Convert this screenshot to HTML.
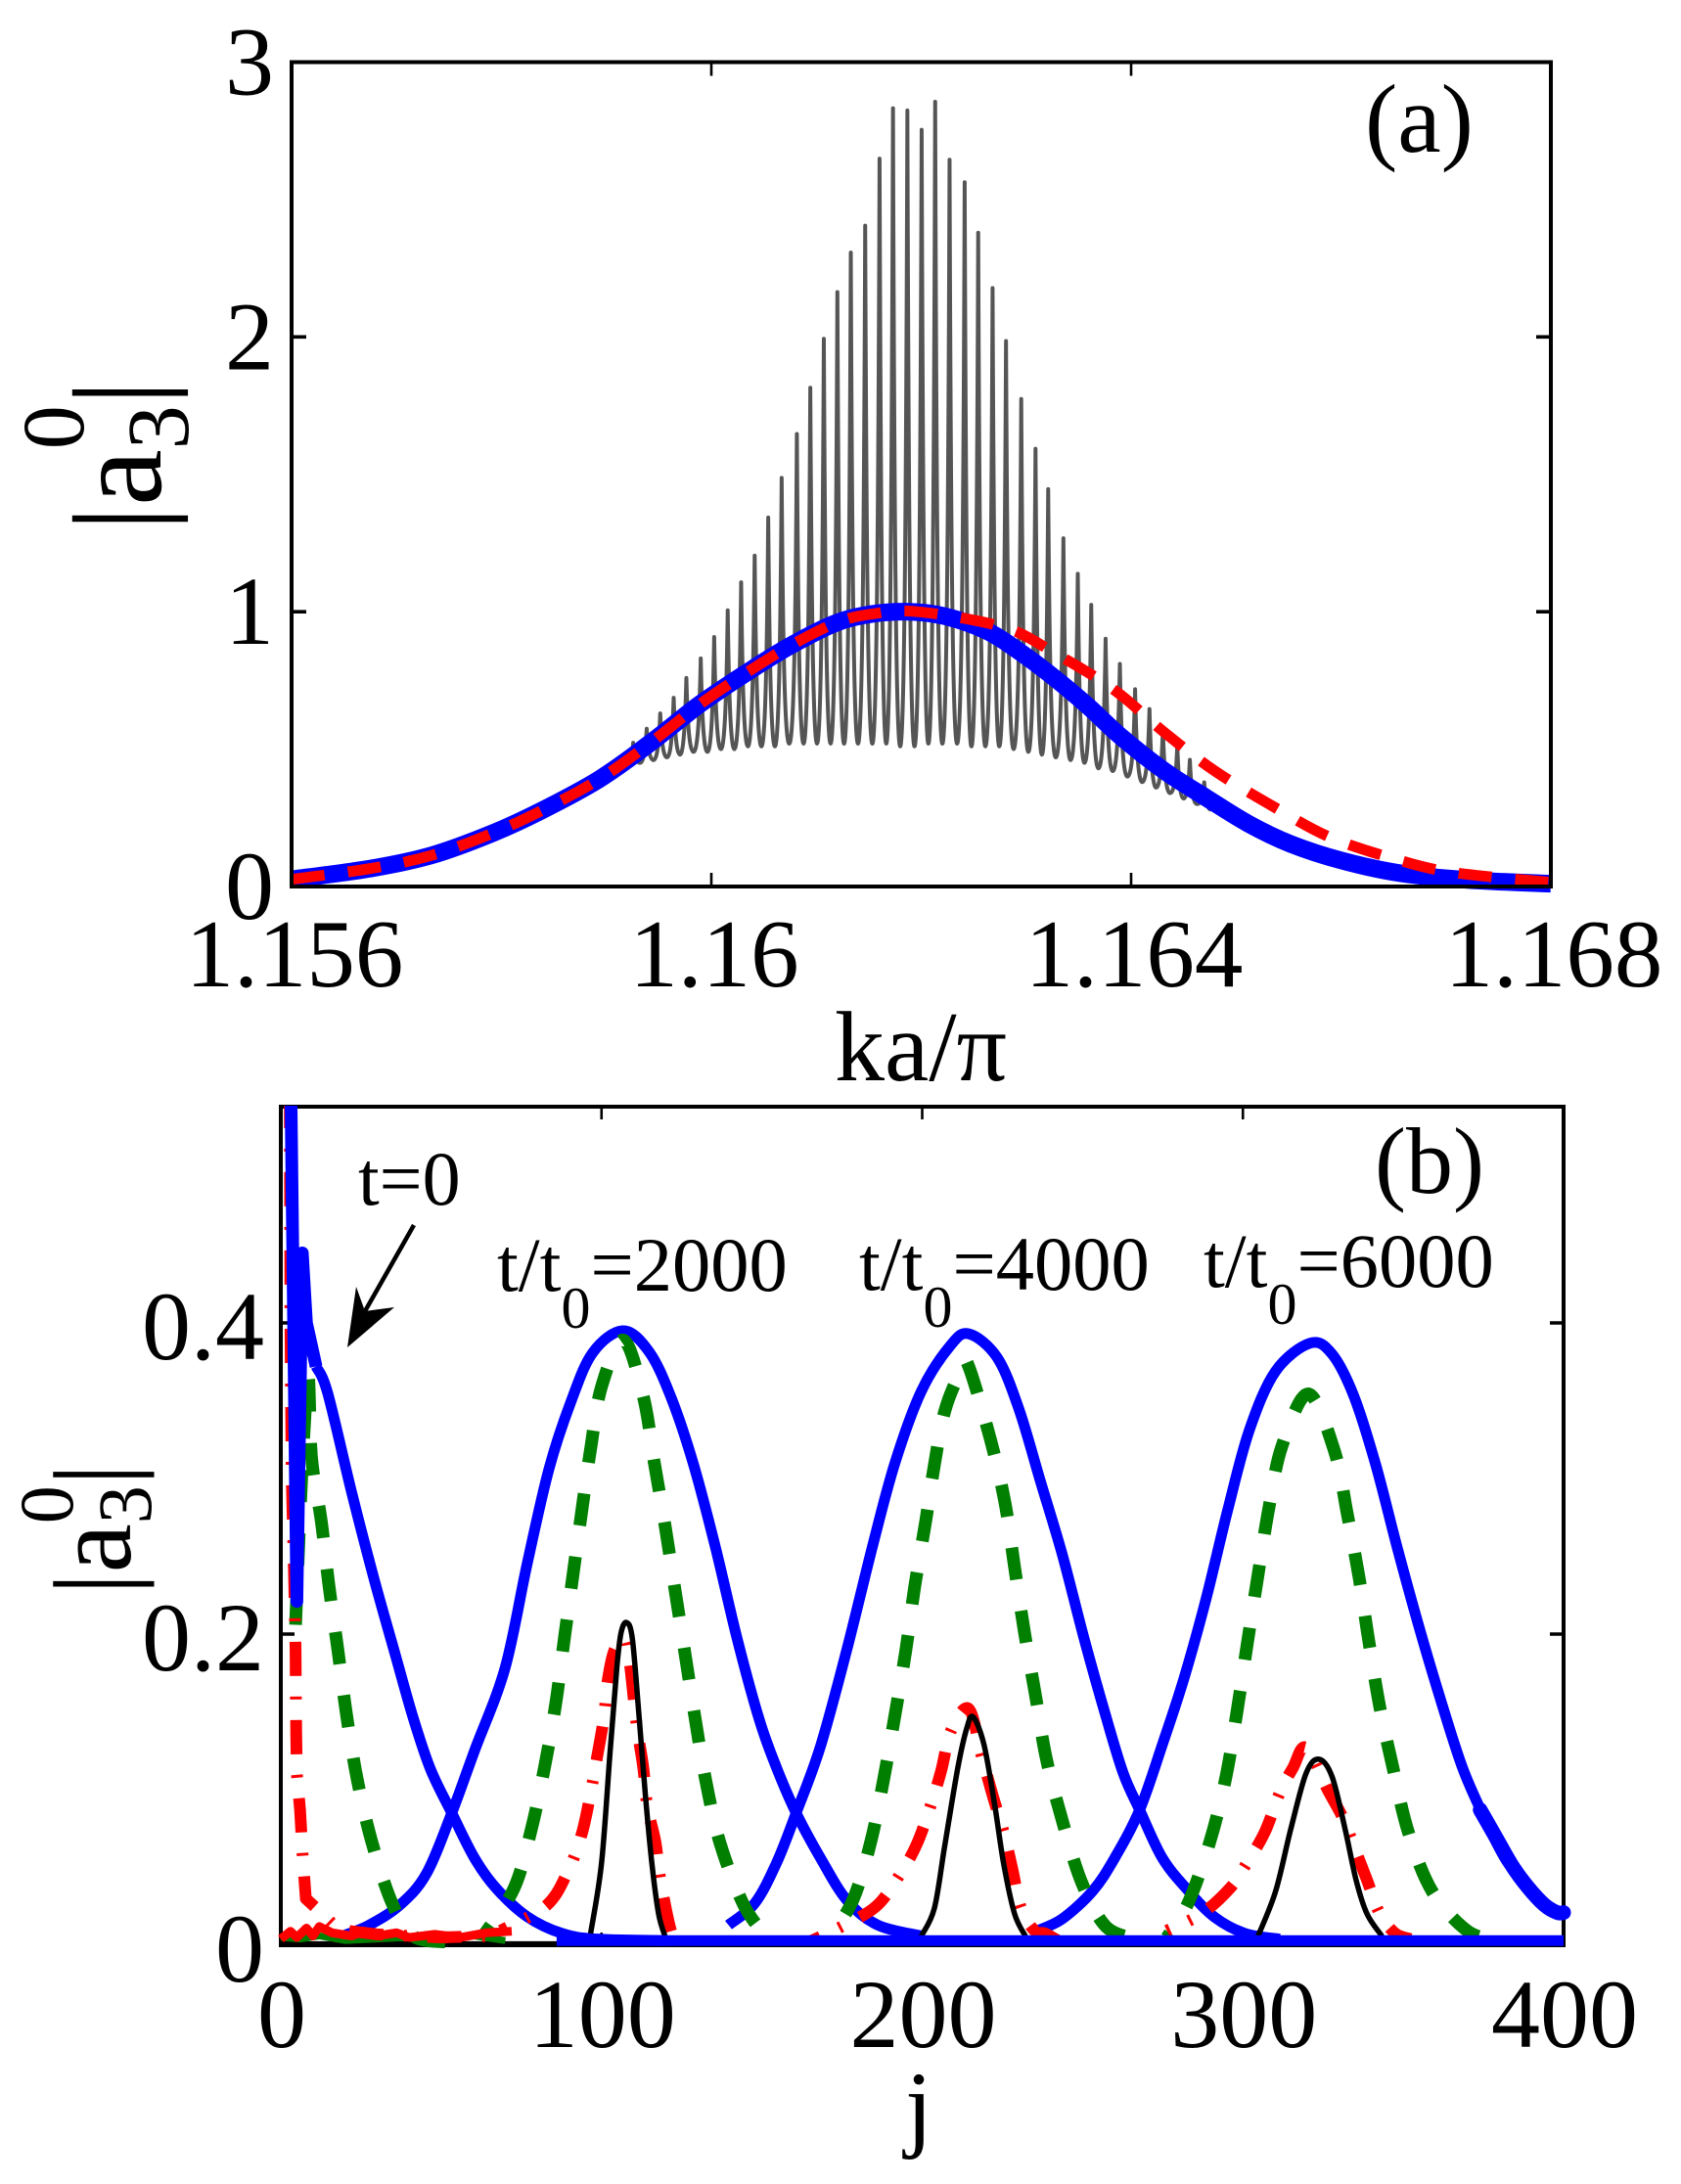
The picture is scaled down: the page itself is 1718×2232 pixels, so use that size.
<!DOCTYPE html>
<html>
<head>
<meta charset="utf-8">
<title>Pulse amplitude chart</title>
<style>
html,body{margin:0;padding:0;background:#fff;}
svg{display:block;}
text{font-family:"Liberation Serif","DejaVu Serif",serif;fill:#000;}
</style>
</head>
<body>
<svg id="fig" width="1718" height="2232" viewBox="0 0 1718 2232" xmlns="http://www.w3.org/2000/svg">
  <defs>
    <clipPath id="clipB"><rect x="284" y="1130" width="1318" height="862"/></clipPath>
  </defs>
  <rect width="1718" height="2232" fill="#fff"/>
  <g id="panelA"></g>
  <g id="panelB"></g>

  <text x="1395" y="155" font-size="100">(a)</text>
  <text x="941" y="1104" font-size="102" text-anchor="middle">ka/π</text>
  <text transform="translate(164,543) rotate(-90)" font-size="130">|a<tspan dy="28" font-size="90">3</tspan><tspan dx="-45" dy="-107" font-size="90">0</tspan><tspan dy="79">|</tspan></text>

  <text x="1405" y="1219" font-size="96">(b)</text>
  <text x="939" y="2186" font-size="100" text-anchor="middle">j</text>
  <text transform="translate(133,1630) rotate(-90)" font-size="113">|a<tspan dy="21" font-size="78">3</tspan><tspan dx="-39" dy="-80" font-size="78">0</tspan><tspan dy="59">|</tspan></text>

  <text x="366" y="1231" font-size="78">t=0</text>
  <text x="508" y="1319" font-size="78.5">t/t<tspan dy="38" font-size="60">0</tspan><tspan dy="-38">=2000</tspan></text>
  <text x="878" y="1318" font-size="78.5">t/t<tspan dy="38" font-size="60">0</tspan><tspan dy="-38">=4000</tspan></text>
  <text x="1230" y="1315" font-size="78.5">t/t<tspan dy="38" font-size="60">0</tspan><tspan dy="-38">=6000</tspan></text>

  <g>
    <line x1="423" y1="1252" x2="373" y2="1340" stroke="#000" stroke-width="4.5"/>
    <polygon points="355,1377 364,1315 373,1340 403,1336" fill="#000"/>
  </g>
</svg>
<script>
// ---------- panel (a) data ----------
const aXTicks = [1.156, 1.16, 1.164, 1.168];
const aXTickLabels = ["1.156", "1.16", "1.164", "1.168"];
const aYTicks = [0, 1, 2, 3];
const aYTickLabels = ["0", "1", "2", "3"];

const combK = [1.158894,1.159014,1.159135,1.159255,1.159384,1.159513,1.159641,1.159762,1.159899,1.160027,1.160156,1.160284,1.160413,1.160542,1.160670,1.160815,1.160943,1.161072,1.161201,1.161329,1.161466,1.161603,1.161731,1.161868,1.162004,1.162133,1.162270,1.162414,1.162543,1.162680,1.162808,1.162953,1.163089,1.163210,1.163355,1.163492,1.163620,1.163757,1.163893,1.164038,1.164175,1.164303,1.164440,1.164560,1.164697];
const combPeaks = [.379,.420,.472,.523,.574,.630,.687,.759,.830,.908,1.005,1.107,1.204,1.343,1.487,1.647,1.815,1.993,2.163,2.307,2.405,2.649,2.832,2.824,2.754,2.856,2.645,2.563,2.379,2.178,1.985,1.774,1.593,1.446,1.267,1.138,1.025,.902,.810,.718,.646,.574,.513,.461,.379];
const combTroughs = [.36,.38,.40,.43,.45,.46,.47,.48,.49,.49,.50,.50,.51,.51,.51,.52,.52,.52,.52,.52,.52,.52,.52,.51,.51,.52,.52,.52,.51,.51,.51,.50,.49,.48,.47,.46,.45,.43,.42,.40,.38,.36,.34,.32,.30,.28];

const aBlueK = [1.1560,1.15676,1.15733,1.15789,1.15837,1.15893,1.15942,1.15990,1.16038,1.16078,1.16118,1.16150,1.16186,1.16222,1.16263,1.16295,1.16327,1.16359,1.16391,1.16432,1.16472,1.16512,1.16552,1.16601,1.16657,1.16721,1.1680];
const aBlueV = [.026,.066,.113,.19,.274,.390,.523,.666,.789,.882,.958,.99,1.0,.984,.929,.851,.759,.656,.543,.42,.322,.228,.155,.094,.048,.024,.010];
const aRedK = [1.1560,1.15676,1.15733,1.15789,1.15837,1.15893,1.15942,1.15990,1.16038,1.16078,1.16118,1.16150,1.16197,1.16279,1.16327,1.16383,1.16432,1.16480,1.16536,1.16589,1.16649,1.16705,1.1680];
const aRedV = [.026,.066,.113,.19,.274,.390,.523,.666,.789,.882,.958,.99,1.0,.943,.85,.718,.56,.42,.29,.18,.103,.052,.015];

// ---------- panel (b) data ----------
const bXTicks = [0, 100, 200, 300, 400];
const bXTickLabels = ["0", "100", "200", "300", "400"];
const bYTicks = [0, 0.2, 0.4];
const bYTickLabels = ["0", "0.2", "0.4"];

const blueSpikeJ = [3,3.2,5,6.7,8,11];
const blueSpikeV = [.56,.54,.221,.445,.40,.372];
const blueT0J = [11,14.6,22.1,29,35.8,41.3,46.7,53.3,60.4,67.2,76.8,87.7,98.6,120];
const blueT0V = [.372,.355,.291,.236,.186,.146,.113,.085,.056,.0365,.0184,.0076,.004,.003];
const blueT2000J = [19.4,27.6,37.2,45.4,53.3,60.4,69.9,76.8,83.6,90.4,97.3,106.8,115,121.9,128.7,135.5,142.3,149.2,154.6,160.7,168.3,176.5,186.1,199.7];
const blueT2000V = [.006,.013,.026,.046,.085,.125,.178,.245,.306,.349,.381,.395,.381,.351,.309,.256,.197,.145,.114,.085,.056,.029,.013,.006];
const blueT4000J = [139.6,147.8,154.6,160.7,168.3,176.5,184.7,191.5,199.7,208.6,214.5,223.3,230.1,236.9,243.7,250.5,257.3,262.7,267.8,274.9,283,291.2,300.7,311.5];
const blueT4000V = [.013,.027,.053,.085,.128,.19,.258,.31,.356,.385,.393,.378,.345,.298,.251,.197,.147,.1105,.087,.056,.035,.018,.0076,.004];
const blueT6000J = [235.5,243.7,253.2,260,267.8,274.9,281.7,288.5,295.3,302,310.2,321,327.8,334.6,341.4,348.2,355,361.7,368.5,375.3,382.1,388.9,394.3,398.4];
const blueT6000V = [.009,.017,.035,.056,.087,.129,.172,.2225,.28,.331,.369,.387,.38,.353,.309,.255,.204,.1575,.114,.082,.0546,.038,.024,.02];
const blueTailJ = [374,379,384,389,394,398,400];
const blueTailV = [.087,.069,.051,.037,.026,.021,.021];
const blueFloorJ = [86,150,250,320,400];
const blueFloorV = [.003,.003,.003,.003,.003];

const greenT0J = [4.6,6.5,8.5,9.6,12.6,15,17.8,20.5,23.8,28.3,34.7,41.3,52];
const greenT0V = [.206,.30,.365,.313,.2728,.2313,.1897,.148,.107,.067,.027,.0058,.002];
const greenT2000J = [63.1,72.7,78.1,82.2,85.7,88.4,91.1,93.9,96.6,100,106.8,113,116.4,119.8,122.8,126,129.1,132.5,137,144.4,152];
const greenT2000V = [.006,.0365,.0744,.114,.155,.197,.238,.28,.319,.359,.389,.353,.311,.27,.23,.188,.147,.106,.0654,.0257,.004];
const greenT4000J = [171,178.5,184,188.1,191.5,194.9,197.7,201.1,203.1,207,212.5,214.5,221.3,225.8,228.8,231.9,235.3,238.7,243.7,249.8,257.3,266.8];
const greenT4000V = [.004,.0296,.0668,.108,.1478,.1896,.231,.2727,.30,.343,.3707,.372,.325,.2845,.243,.201,.161,.12,.08,.04,.012,.004];
const greenT6000J = [276.3,283,289.8,294.6,298,301.4,304.7,308.1,312.2,320.4,328.5,332.6,336.2,339.3,342.7,346.8,351.6,359,369.9,379.4];
const greenT6000V = [.005,.0275,.0672,.107,.148,.1943,.2377,.281,.321,.3544,.318,.2767,.2367,.195,.153,.114,.0727,.0347,.0094,.003];
const greenFloorJ = [0,6,12,20,30,40,50,60,70];
const greenFloorV = [.005,.004,.006,.003,.004,.005,.003,.006,.003];

const redT0J = [2.8,3,3.4,4,4.6,4.7,4.8,5,6,6.8,7.8,12,18,30,50,64,70];
const redT0V = [.54,.40,.30,.25,.19,.159,.136,.11,.087,.058,.03,.022,.010,.007,.005,.006,.01];
const redT2000J = [68.6,82.9,89.8,93.9,96.6,98.6,100.7,102,104.1,107.5,108.9,110.9,113,114.3,116.8,118.4,121.9,124.6];
const redT2000V = [.0094,.0257,.0488,.072,.0979,.1207,.146,.171,.19,.197,.18,.1427,.1145,.089,.0665,.0417,.0076,.003];
const redT4000J = [165.6,175.8,186,193.6,198.4,202.5,205.9,209,214.5,218.6,222,225.4,228.1,230.8,235,238.3,242.3];
const redT4000V = [.003,.013,.0257,.0473,.0654,.0889,.112,.138,.152,.1214,.0961,.0726,.049,.0239,.0094,.0076,.003];
const redT6000J = [276.3,287.1,295.9,300.7,306.8,311.5,315.6,319.7,326.5,331.2,335.3,338.7,342.7,347.5,352.2];
const redT6000V = [.0094,.0202,.0365,.051,.0726,.098,.114,.127,.0997,.0817,.06,.0419,.0202,.0076,.004];
const redFloorJ = [0,3,5,8,10,12,16,22,26,30,36,40,48,56,64,72];
const redFloorV = [.004,.009,.005,.011,.006,.012,.008,.006,.009,.006,.008,.005,.007,.005,.008,.009];

const blackT2000J = [96.6,100,102.7,104.8,106.1,107.8,109.6,111.6,113.7,115.7,117.8,119.8];
const blackT2000V = [.0076,.0527,.125,.179,.2009,.2074,.1973,.1499,.0961,.0527,.0202,.0058];
const blackT4000J = [199.7,203.8,207,211.1,213.9,215.9,219.3,222.7,225.4,228.8,232.2];
const blackT4000V = [.0058,.0238,.0636,.114,.1395,.1467,.1286,.0889,.0524,.0202,.0058];
const blackT6000J = [304.7,310.2,314.9,319.7,323.7,327.8,331.9,335.3,338.7,343.4];
const blackT6000V = [.0058,.0347,.0744,.1105,.1196,.1084,.0744,.0419,.0202,.0058];
const blackFloorJ = [0,100,200,400];
const blackFloorV = [.001,.001,.001,.001];

// ---------- axis functions ----------
const aLeft = 298, aRight = 1585, aTop = 63.5, aBottom = 906;
const bLeft = 287, bRight = 1598, bTop = 1131, bBottom = 1988;
const ax = k => aLeft + (k - 1.156) / 0.012 * (aRight - aLeft);
const ay = v => aBottom - v / 3 * (aBottom - aTop);
const bx = j => bLeft + j / 400 * (bRight - bLeft);
const by = v => bBottom - v / 0.2 * 318;

const NS = "http://www.w3.org/2000/svg";
const panelA = document.getElementById("panelA");
const panelB = document.getElementById("panelB");

function make(parent, tag, attrs) {
  const e = document.createElementNS(NS, tag);
  for (const key in attrs) e.setAttribute(key, attrs[key]);
  parent.appendChild(e);
  return e;
}
function straight(xs, ys, fx, fy) {
  return xs.map((x, i) => (i ? "L" : "M") + fx(x).toFixed(2) + " " + fy(ys[i]).toFixed(2)).join(" ");
}
function smooth(xs, ys, fx, fy) {
  const p = xs.map((x, i) => [fx(x), fy(ys[i])]);
  let d = "M" + p[0][0].toFixed(2) + " " + p[0][1].toFixed(2);
  for (let i = 0; i < p.length - 1; i++) {
    const a = p[Math.max(i - 1, 0)], b = p[i], c = p[i + 1], e = p[Math.min(i + 2, p.length - 1)];
    d += " C" + (b[0] + (c[0] - a[0]) / 6).toFixed(2) + " " + (b[1] + (c[1] - a[1]) / 6).toFixed(2) + " " +
         (c[0] - (e[0] - b[0]) / 6).toFixed(2) + " " + (c[1] - (e[1] - b[1]) / 6).toFixed(2) + " " +
         c[0].toFixed(2) + " " + c[1].toFixed(2);
  }
  return d;
}
function curve(parent, d, color, width, dash, clip) {
  const attrs = {d: d, fill: "none", stroke: color, "stroke-width": width, "stroke-linejoin": "round"};
  if (dash) attrs["stroke-dasharray"] = dash;
  if (clip) attrs["clip-path"] = "url(#clipB)";
  return make(parent, "path", attrs);
}
// Shift a dashed stroke so that a dash sits centred near a reference pixel.
function alignDash(path, refX, refY, centre) {
  const total = path.getTotalLength();
  let best = 0, bestDist = Infinity;
  for (let s = 0; s <= total; s += 1) {
    const q = path.getPointAtLength(s);
    const dist = (q.x - refX) * (q.x - refX) + (q.y - refY) * (q.y - refY);
    if (dist < bestDist) { bestDist = dist; best = s; }
  }
  path.setAttribute("stroke-dashoffset", (centre - best).toFixed(2));
}
function combPath() {
  const xp = combK.map(ax);
  const step = xp[1] - xp[0];
  const xt = i => i === 0 ? xp[0] - step / 2 : (i === xp.length ? xp[xp.length - 1] + step / 2 : (xp[i - 1] + xp[i]) / 2);
  let d = "M" + xt(0).toFixed(2) + " " + ay(combTroughs[0]).toFixed(2);
  combK.forEach((k, i) => {
    const X = xp[i], Y = ay(combPeaks[i]), t0 = ay(combTroughs[i]), t1 = ay(combTroughs[i + 1]);
    d += " C" + (X - 2.6).toFixed(2) + " " + t0.toFixed(2) + " " + (X - 1).toFixed(2) + " " + ((Y + t0) / 2).toFixed(2) + " " + X.toFixed(2) + " " + Y.toFixed(2);
    d += " C" + (X + 1).toFixed(2) + " " + ((Y + t1) / 2).toFixed(2) + " " + (X + 2.6).toFixed(2) + " " + t1.toFixed(2) + " " + xt(i + 1).toFixed(2) + " " + t1.toFixed(2);
  });
  return d;
}

// ---------- panel (a) ----------
const comb = curve(panelA, combPath(), "#555555", 4);



const aBlue = curve(panelA, smooth(aBlueK, aBlueV, ax, ay), "#0000ff", 18);



const aRed = curve(panelA, smooth(aRedK, aRedV, ax, ay), "#ff0000", 11, "34 24");



const aFrame = make(panelA, "rect", {x: aLeft, y: aTop, width: aRight - aLeft, height: aBottom - aTop, fill: "none", stroke: "#000", "stroke-width": 4});



aXTicks.forEach((t, i) => {
  const X = ax(t);
  const tick = make(panelA, "path", {d: "M" + X + " " + aBottom + "v-14M" + X + " " + aTop + "v14", stroke: "#000", "stroke-width": 2.6, fill: "none"});
  
  
  const label = make(panelA, "text", {x: X + 3, y: 1008, "font-size": 99, "text-anchor": "middle"});
  label.textContent = aXTickLabels[i];
  
  
});
aYTicks.forEach((t, i) => {
  const Y = ay(t);
  const tick = make(panelA, "path", {d: "M" + aLeft + " " + Y + "h15M" + aRight + " " + Y + "h-15", stroke: "#000", "stroke-width": 3.6, fill: "none"});
  
  
  const label = make(panelA, "text", {x: 280, y: Y + 33, "font-size": 100, "text-anchor": "end"});
  label.textContent = aYTickLabels[i];
  
  
});

// ---------- panel (b) ----------
const bFrame = make(panelB, "rect", {x: bLeft, y: bTop, width: bRight - bLeft, height: bBottom - bTop, fill: "none", stroke: "#000", "stroke-width": 4});



bXTicks.forEach((t, i) => {
  const X = bx(t);
  const tick = make(panelB, "path", {d: "M" + X + " " + bBottom + "v-13M" + X + " " + bTop + "v13", stroke: "#000", "stroke-width": 2.6, fill: "none"});
  
  
  const label = make(panelB, "text", {x: X + 1, y: 2092, "font-size": 100, "text-anchor": "middle"});
  label.textContent = bXTickLabels[i];
  
  
});
bYTicks.forEach((t, i) => {
  const Y = by(t);
  const tick = make(panelB, "path", {d: "M" + bLeft + " " + Y + "h14M" + bRight + " " + Y + "h-14", stroke: "#000", "stroke-width": 3.6, fill: "none"});
  
  
  const label = make(panelB, "text", {x: 270, y: Y + 37, "font-size": 100, "text-anchor": "end"});
  label.textContent = bYTickLabels[i];
  
  
});

const BLUE = "#0000ff", GREEN = "#007f00", RED = "#ff0000", BLACK = "#000000";
const greenDash = "33 32", redDash = "35 21 3 21";
const blueWidth = 11, greenWidth = 13, redWidth = 12, blackWidth = 5.5;

const blackFloor = curve(panelB, straight(blackFloorJ, blackFloorV, bx, by), BLACK, 5, null, true);



const b0 = curve(panelB, smooth(blueT0J, blueT0V, bx, by), BLUE, blueWidth, null, true);


const b2 = curve(panelB, smooth(blueT2000J, blueT2000V, bx, by), BLUE, blueWidth, null, true);


const b4 = curve(panelB, smooth(blueT4000J, blueT4000V, bx, by), BLUE, blueWidth, null, true);


const b6 = curve(panelB, smooth(blueT6000J, blueT6000V, bx, by), BLUE, blueWidth, null, true);


const bTail = curve(panelB, smooth(blueTailJ, blueTailV, bx, by), BLUE, 15, null, false);


bTail.setAttribute('stroke-linecap', 'round');

const gFloor = curve(panelB, straight(greenFloorJ, greenFloorV, bx, by), GREEN, 7, null, true);


const g0 = curve(panelB, smooth(greenT0J, greenT0V, bx, by), GREEN, greenWidth, greenDash, true);


alignDash(g0, 336, 1620, 16.5);
const g2 = curve(panelB, smooth(greenT2000J, greenT2000V, bx, by), GREEN, greenWidth, greenDash, true);


alignDash(g2, 593, 1543, 16.5);
const g4 = curve(panelB, smooth(greenT4000J, greenT4000V, bx, by), GREEN, greenWidth, greenDash, true);


alignDash(g4, 915, 1752, 16.5);
const g6 = curve(panelB, smooth(greenT6000J, greenT6000V, bx, by), GREEN, greenWidth, greenDash, true);


alignDash(g6, 1275, 1680, 16.5);

const rFloor = curve(panelB, straight(redFloorJ, redFloorV, bx, by), RED, 9, null, true);


const r0 = curve(panelB, straight(redT0J, redT0V, bx, by), RED, redWidth, redDash, true);


alignDash(r0, 302, 1775, 17.5);
const r2 = curve(panelB, smooth(redT2000J, redT2000V, bx, by), RED, redWidth, redDash, true);


alignDash(r2, 610, 1781, 17.5);
const r4 = curve(panelB, smooth(redT4000J, redT4000V, bx, by), RED, redWidth, redDash, true);


alignDash(r4, 937, 1884, 17.5);
const r6 = curve(panelB, smooth(redT6000J, redT6000V, bx, by), RED, redWidth, redDash, true);


alignDash(r6, 1292.5, 1872, 17.5);

const k2 = curve(panelB, smooth(blackT2000J, blackT2000V, bx, by), BLACK, blackWidth, null, true);


const k4 = curve(panelB, smooth(blackT4000J, blackT4000V, bx, by), BLACK, blackWidth, null, true);


const k6 = curve(panelB, smooth(blackT6000J, blackT6000V, bx, by), BLACK, blackWidth, null, true);



const bSpike = curve(panelB, straight(blueSpikeJ, blueSpikeV, bx, by), BLUE, 13, null, true);


const bFloor = curve(panelB, straight(blueFloorJ, blueFloorV, bx, by), BLUE, 11, null, true);


</script>
</body>
</html>
